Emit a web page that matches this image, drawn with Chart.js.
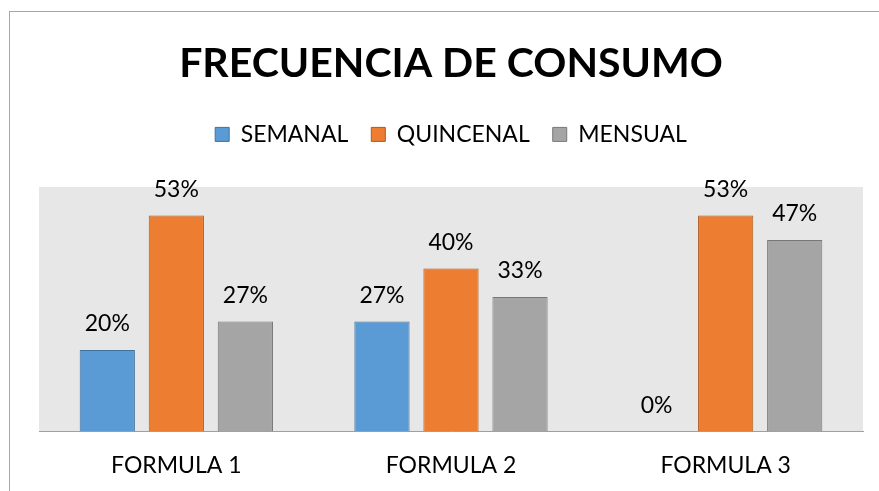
<!DOCTYPE html>
<html>
<head>
<meta charset="utf-8">
<script src="https://cdn.jsdelivr.net/npm/chart.js@4.4.0/dist/chart.umd.min.js"></script>
<style>
  html, body { margin: 0; padding: 0; background: #fff; }
  #wrap { position: relative; width: 879px; height: 491px; }
  #wrap canvas { display: block; }
  #frame { position: absolute; left: 9px; top: 11px; right: 0; bottom: 0;
           border-top: 1px solid #a6a6a6; border-left: 1px solid #a6a6a6; pointer-events: none; }
</style>
</head>
<body>
<div id="wrap">
  <canvas id="freqChart" width="879" height="491"></canvas>
  <div id="frame"></div>
</div>
<script>
// categories and series (percent)
const categories = ['FORMULA 1', 'FORMULA 2', 'FORMULA 3'];
const semanal = [20, 27, 0];
const quincenal = [53, 40, 53];
const mensual = [27, 33, 47];

const fontFamily = 'Lato, "Open Sans", sans-serif';

// grey plot background
const plotBackground = {
  id: 'plotBackground',
  beforeDraw(chart) {
    const { ctx, chartArea: a } = chart;
    ctx.save();
    ctx.fillStyle = '#e7e7e7';
    ctx.fillRect(a.left, a.top, a.right - a.left, a.bottom - a.top);
    ctx.restore();
  }
};

// empty box between legend and plot, to push the plot down
const legendGap = {
  id: 'legendGap',
  beforeInit(chart) {
    Chart.layouts.addBox(chart, {
      position: 'top',
      weight: 0,
      fullSize: true,
      options: {},
      isHorizontal() { return true; },
      update(maxWidth) { this.width = maxWidth; this.height = 31; },
      draw() {}
    });
  }
};

// percent labels above each bar
const valueLabels = {
  id: 'valueLabels',
  afterDatasetsDraw(chart) {
    const { ctx } = chart;
    ctx.save();
    ctx.font = '23px ' + fontFamily;
    ctx.fillStyle = '#000';
    ctx.textAlign = 'center';
    ctx.textBaseline = 'middle';
    chart.data.datasets.forEach((ds, i) => {
      chart.getDatasetMeta(i).data.forEach((bar, j) => {
        ctx.fillText(ds.data[j] + '%', bar.x, bar.y - 26);
      });
    });
    ctx.restore();
  }
};

new Chart(document.getElementById('freqChart'), {
  type: 'bar',
  data: {
    labels: categories,
    datasets: [
      { label: 'SEMANAL', data: semanal, backgroundColor: '#5b9bd5', borderColor: '#41719c', borderWidth: 1 },
      { label: 'QUINCENAL', data: quincenal, backgroundColor: '#ed7d31', borderColor: '#ae5a21', borderWidth: 1 },
      { label: 'MENSUAL', data: mensual, backgroundColor: '#a5a5a5', borderColor: '#787878', borderWidth: 1 }
    ]
  },
  options: {
    responsive: false,
    animation: false,
    devicePixelRatio: 1,
    layout: { padding: { left: 39, right: 16, top: 0, bottom: -8 } },
    datasets: { bar: { categoryPercentage: 0.754, barPercentage: 0.8 } },
    plugins: {
      title: {
        display: true,
        text: 'FRECUENCIA DE CONSUMO',
        color: '#000',
        font: { family: fontFamily, size: 41, weight: 'bold', lineHeight: 0.9 },
        padding: { top: 45, bottom: 18 }
      },
      legend: {
        position: 'top',
        labels: {
          color: '#000',
          font: { family: fontFamily, size: 23 },
          boxWidth: 14,
          boxHeight: 14,
          padding: 23
        }
      },
      tooltip: { enabled: false }
    },
    scales: {
      x: {
        grid: { display: false, drawTicks: false },
        border: { color: '#a0a0a0', width: 1 },
        ticks: { color: '#000', font: { family: fontFamily, size: 23 }, padding: 20 }
      },
      y: { display: false, min: 0, max: 60 }
    }
  },
  plugins: [plotBackground, legendGap, valueLabels]
});
</script>
</body>
</html>
